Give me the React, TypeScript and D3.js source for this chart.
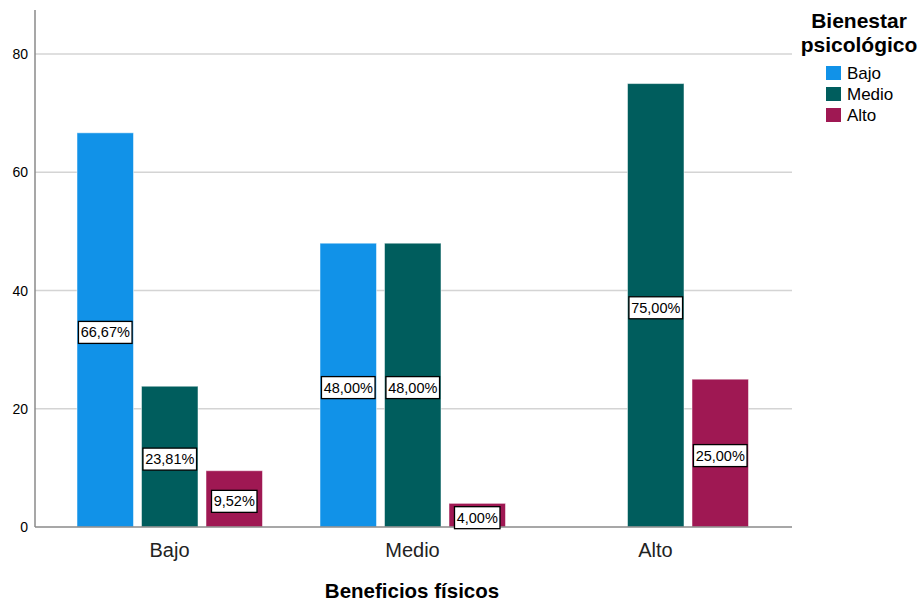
import React from "react";
import * as d3 from "d3";

const categories = ["Bajo", "Medio", "Alto"];
const series = ["Bajo", "Medio", "Alto"];
const valuesBajo = [66.67, 48.0, 0];
const valuesMedio = [23.81, 48.0, 75.0];
const valuesAlto = [9.52, 4.0, 25.0];
const labelsBajo = ["66,67%", "48,00%", ""];
const labelsMedio = ["23,81%", "48,00%", "75,00%"];
const labelsAlto = ["9,52%", "4,00%", "25,00%"];
const yTicks = [0, 20, 40, 60, 80];
const colors = ["#1192e8", "#005d5d", "#9f1853"];
const xTitle = "Beneficios físicos";
const legendTitle = ["Bienestar", "psicológico"];

const W = 920;
const H = 603;
const axisX = 35;
const plotRight = 792;
const plotTop = 10;
const baseY = 527;
const font = "Arial, 'Liberation Sans', sans-serif";

export default function App() {
  const y = d3.scaleLinear().domain([0, 80]).range([baseY, baseY - 4 * 118.25]);
  const x = d3.scaleBand<string>().domain(categories).range([48, 777]).padding(0);
  const inner = d3
    .scaleBand<string>()
    .domain(series)
    .range([29, 29 + 185.5])
    .paddingInner(0.124)
    .paddingOuter(0);
  const vals = [valuesBajo, valuesMedio, valuesAlto];
  const labs = [labelsBajo, labelsMedio, labelsAlto];

  const bars: React.ReactNode[] = [];
  const labels: React.ReactNode[] = [];
  categories.forEach((c, ci) => {
    series.forEach((s, si) => {
      const v = vals[si][ci];
      if (!v) return;
      const bx = (x(c) as number) + (inner(s) as number);
      const bw = inner.bandwidth();
      const top = y(v);
      bars.push(
        <rect
          key={`b-${ci}-${si}`}
          x={bx}
          y={top}
          width={bw}
          height={baseY - top}
          fill={colors[si]}
          stroke="#ffffff"
          strokeOpacity={0.5}
          strokeWidth={1}
        />
      );
      const txt = labs[si][ci];
      const tw = txt.length * 8.1 + 5;
      const cx = bx + bw / 2;
      const cy = (top + baseY) / 2 + 2.5;
      labels.push(
        <g key={`l-${ci}-${si}`}>
          <rect
            x={cx - tw / 2}
            y={cy - 11}
            width={tw}
            height={22}
            fill="#ffffff"
            stroke="#000000"
            strokeWidth={1.3}
          />
          <text
            x={cx}
            y={cy + 5}
            textAnchor="middle"
            fontSize={14.5}
            fontFamily={font}
            fill="#000"
          >
            {txt}
          </text>
        </g>
      );
    });
  });

  return (
    <svg
      width={W}
      height={H}
      style={{ position: "absolute", left: 0, top: 0, background: "#fff" }}
    >
      <rect x={0} y={0} width={W} height={H} fill="#fff" />
      {yTicks.map((t) =>
        t === 0 ? null : (
          <line
            key={`g${t}`}
            x1={axisX}
            x2={plotRight}
            y1={y(t)}
            y2={y(t)}
            stroke="#d4d4d4"
            strokeWidth={1.5}
          />
        )
      )}
      {yTicks.map((t) => (
        <text
          key={`t${t}`}
          x={28}
          y={y(t) + 5}
          textAnchor="end"
          fontSize={14}
          fontFamily={font}
          fill="#000"
        >
          {t}
        </text>
      ))}
      {bars}
      <line x1={axisX} x2={axisX} y1={plotTop} y2={baseY} stroke="#8a8a8a" strokeWidth={1.5} />
      <line x1={axisX} x2={plotRight} y1={baseY} y2={baseY} stroke="#8a8a8a" strokeWidth={1.5} />
      {labels}
      {categories.map((c) => (
        <text
          key={`x${c}`}
          x={(x(c) as number) + x.bandwidth() / 2}
          y={557}
          textAnchor="middle"
          fontSize={20}
          fontFamily={font}
          fill="#222"
        >
          {c}
        </text>
      ))}
      <text
        x={412}
        y={598}
        textAnchor="middle"
        fontSize={20.5}
        fontWeight="bold"
        fontFamily={font}
        fill="#000"
      >
        {xTitle}
      </text>
      {legendTitle.map((t, i) => (
        <text
          key={`lt${i}`}
          x={859}
          y={28 + i * 23.5}
          textAnchor="middle"
          fontSize={21}
          fontWeight="bold"
          fontFamily={font}
          fill="#000"
        >
          {t}
        </text>
      ))}
      {series.map((s, i) => (
        <g key={`lg${s}`}>
          <rect x={826} y={66 + i * 21} width={15} height={14} fill={colors[i]} />
          <text x={847} y={79 + i * 21} fontSize={17} fontFamily={font} fill="#000">
            {s}
          </text>
        </g>
      ))}
    </svg>
  );
}
